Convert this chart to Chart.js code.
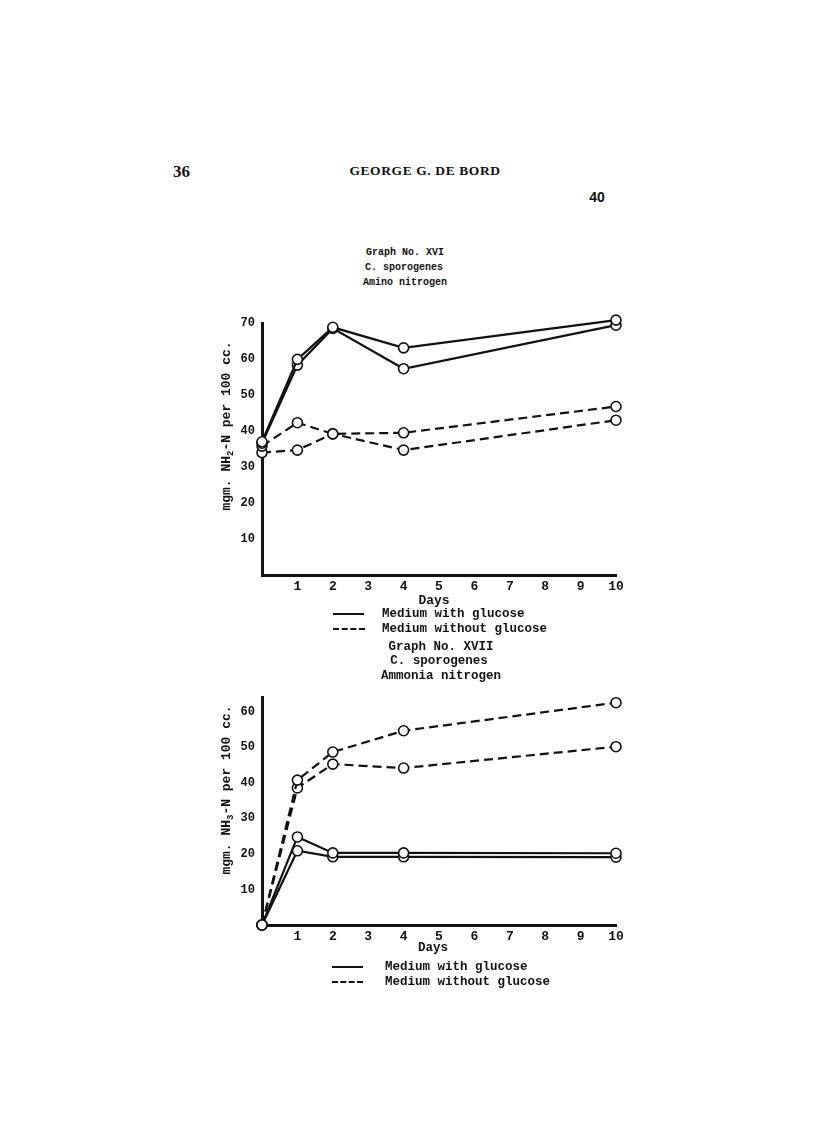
<!DOCTYPE html>
<html><head><meta charset="utf-8">
<script src="https://cdn.jsdelivr.net/npm/chart.js@4"></script>
<style>
body{margin:0;width:816px;height:1138px;background:#fff;position:relative;overflow:hidden;color:#111}
.t{position:absolute;white-space:nowrap;line-height:1;font-family:"Liberation Mono",monospace;font-weight:bold}
canvas{position:absolute}
.ln{position:absolute;height:0;border-top:2px solid #111}
.ln.d{border-top:2px dashed #111}
</style></head><body>
<canvas id="c1" width="440" height="310" style="left:200px;top:300px"></canvas>
<canvas id="c2" width="440" height="280" style="left:200px;top:680px"></canvas>
<div class="ln" style="left:333px;top:613px;width:31px"></div>
<div class="ln d" style="left:333px;top:628px;width:32px"></div>
<div class="ln" style="left:332px;top:966px;width:31px"></div>
<div class="ln d" style="left:332px;top:981px;width:31px"></div>
<script>
// ---- data ----
const days = [0, 1, 2, 4, 10];
const xTicks = [1, 2, 3, 4, 5, 6, 7, 8, 9, 10];
const yTicksTop = [10, 20, 30, 40, 50, 60, 70];
const yTicksBottom = [10, 20, 30, 40, 50, 60];
// Graph XVI - Amino nitrogen
const aminoGlucoseA = [37.0, 59.9, 68.8, 63.1, 70.8];
const aminoGlucoseB = [36.6, 58.3, 68.5, 57.3, 69.4];
const aminoNoGlucoseA = [35.8, 42.3, 39.2, 39.5, 46.8];
const aminoNoGlucoseB = [34.0, 34.7, 39.2, 34.7, 43.0];
// Graph XVII - Ammonia nitrogen
const ammoniaNoGlucoseA = [0, 40.8, 48.7, 54.7, 62.6];
const ammoniaNoGlucoseB = [0, 38.6, 45.3, 44.2, 50.2];
const ammoniaGlucoseA = [0, 24.8, 20.3, 20.3, 20.2];
const ammoniaGlucoseB = [0, 20.9, 19.2, 19.2, 19.1];

function txt(s, cx, cy, size, opts) {
  opts = opts || {};
  const d = document.createElement('div');
  d.className = 't';
  d.innerHTML = s;
  d.style.fontSize = size + 'px';
  if (opts.family) d.style.fontFamily = opts.family;
  d.style.left = cx + 'px';
  d.style.top = cy + 'px';
  let tr = opts.left ? 'translate(0,-50%)' : 'translate(-50%,-50%)';
  if (opts.rot) tr = 'translate(-50%,-50%) rotate(-90deg)';
  d.style.transform = tr;
  if (opts.ls) d.style.letterSpacing = opts.ls + 'px';
  document.body.appendChild(d);
}
txt('36', 173, 171, 17, {left: true, family: '"Liberation Serif", serif'});
txt('GEORGE G. DE BORD', 425, 171, 13.5, {family: '"Liberation Serif", serif', ls: 0.6});
txt('40', 597, 197, 14, {family: '"Liberation Sans", sans-serif'});
txt('Graph No. XVI', 405, 253, 10);
txt('C. sporogenes', 404, 268, 10);
txt('Amino nitrogen', 405, 283, 10);
txt('mgm. NH<sub style="font-size:9px">2</sub>-N per 100 cc.', 228, 426, 13, {rot: true});
txt('Days', 434, 600, 13);
txt('Medium with glucose', 382, 614, 12.5, {left: true});
txt('Medium without glucose', 382, 629, 12.5, {left: true});
txt('Graph No. XVII', 441, 647, 12.5);
txt('C. sporogenes', 439, 661, 12.5);
txt('Ammonia nitrogen', 441, 676, 12.5);
txt('mgm. NH<sub style="font-size:9px">3</sub>-N per 100 cc.', 228, 790, 13, {rot: true});
txt('Days', 433, 948, 12.5);
txt('Medium with glucose', 385, 967, 12.5, {left: true});
txt('Medium without glucose', 385, 982, 12.5, {left: true});

const xFont = {family: '"Liberation Mono", monospace', weight: 'bold', size: 13};
const yFont = {family: '"Liberation Mono", monospace', weight: 'bold', size: 12};
function ds(vals, dashed) {
  return {
    data: days.map((d, i) => ({x: d, y: vals[i]})),
    borderColor: '#111', borderWidth: 2.2, borderDash: dashed ? [9, 5] : [],
    pointRadius: 5, pointBackgroundColor: '#fff', pointBorderColor: '#111',
    pointBorderWidth: 1.6, fill: false, tension: 0, clip: false
  };
}
function make(id, datasets, ymax, yTicks, padTop) {
  new Chart(document.getElementById(id), {
    type: 'line',
    data: {datasets},
    options: {
      responsive: false, animation: false, devicePixelRatio: 1,
      layout: {padding: {top: padTop, right: 24, left: 0, bottom: 0}},
      plugins: {legend: {display: false}, tooltip: {enabled: false}},
      scales: {
        x: {type: 'linear', min: 0, max: 10,
          afterBuildTicks: a => { a.ticks = xTicks.map(v => ({value: v})); },
          afterFit: s => { s.height = 35; },
          grid: {display: false, drawTicks: false}, border: {display: true, color: '#111', width: 3},
          ticks: {color: '#111', font: xFont, padding: 4, maxRotation: 0, autoSkip: false}},
        y: {type: 'linear', min: 0, max: ymax,
          afterBuildTicks: a => { a.ticks = yTicks.map(v => ({value: v})); },
          afterFit: s => { s.width = 62; },
          grid: {display: false, drawTicks: false}, border: {display: true, color: '#111', width: 3},
          ticks: {color: '#111', font: yFont, padding: 7, autoSkip: false}}
      }
    }
  });
}
make('c1', [ds(aminoGlucoseA), ds(aminoGlucoseB), ds(aminoNoGlucoseA, true), ds(aminoNoGlucoseB, true)], 70, yTicksTop, 23);
make('c2', [ds(ammoniaNoGlucoseA, true), ds(ammoniaNoGlucoseB, true), ds(ammoniaGlucoseA), ds(ammoniaGlucoseB)], 64.2, yTicksBottom, 17);
</script>
</body></html>
